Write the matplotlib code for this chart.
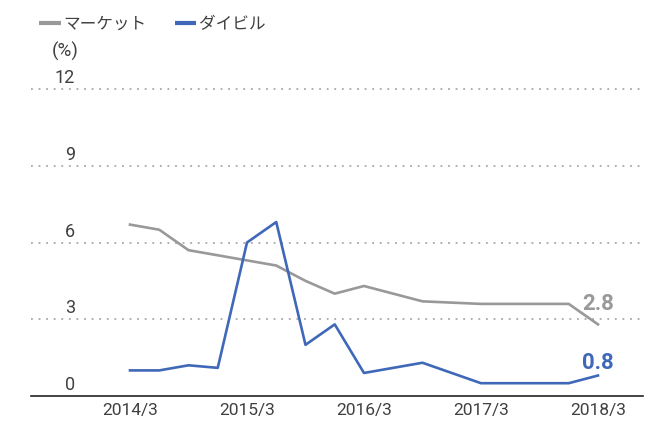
import matplotlib
matplotlib.use("Agg")
import matplotlib.pyplot as plt

plt.rcParams['font.family'] = ['Roboto', 'DejaVu Sans']

# ====== データ ======
# 四半期インデックス (0 = 2014/3)
quarters = [0, 1, 2, 3, 4, 5, 6, 7, 8, 10, 12, 15, 16]
market = [6.7, 6.5, 5.7, 5.5, 5.3, 5.1, 4.5, 4.0, 4.3, 3.7, 3.6, 3.6, 2.8]
daibiru = [1.0, 1.0, 1.2, 1.1, 6.0, 6.8, 2.0, 2.8, 0.9, 1.3, 0.5, 0.5, 0.8]
xtick_pos = [0, 4, 8, 12, 16]
xtick_labels = ["2014/3", "2015/3", "2016/3", "2017/3", "2018/3"]
yticks = [0, 3, 6, 9, 12]
series_names = ["マーケット", "ダイビル"]

GRAY = "#999999"
BLUE = "#4068b8"
TEXT = "#404040"

# ====== グラフ ======
fig = plt.figure(figsize=(6.53, 4.24), dpi=100)
W, H = 653, 424
left, right, top, bottom = 31, 643, 80, 396
ax = fig.add_axes([left / W, 1 - bottom / H, (right - left) / W, (bottom - top) / H])

ax.plot(quarters, market, color=GRAY, lw=1.9, label=series_names[0])
ax.plot(quarters, daibiru, color=BLUE, lw=1.9, label=series_names[1])

ax.set_xlim(-3.385, 17.54)
ax.set_ylim(0, 12 * (bottom - top) / (bottom - 89))

# 点線グリッド
for v in yticks[1:]:
    ax.axhline(v, color="#a8a8a8", lw=1.3, ls=(0, (1, 3.2)), zorder=0)

for s in ["left", "right", "top"]:
    ax.spines[s].set_visible(False)
ax.spines["bottom"].set_color("#222222")
ax.spines["bottom"].set_linewidth(1.2)

ax.set_yticks([])
ax.set_xticks(xtick_pos)
ax.set_xticklabels(xtick_labels, fontsize=12.5, color=TEXT)
ax.tick_params(axis="x", length=0, pad=5)

# Y目盛ラベル (線の上)
xlab = (75 - left) / (right - left)
for v in yticks:
    ax.text(xlab, v + 0.23, str(v), transform=ax.get_yaxis_transform(), ha="right",
            va="baseline", fontsize=13, color=TEXT)

fig.text(65 / W, 1 - 51 / H, "(%)", ha="center", va="center", fontsize=13.5, color=TEXT)

# 末尾ラベル
ax.text(quarters[-1], market[-1] + 0.55, f"{market[-1]:.1f}", ha="center", va="baseline",
        fontsize=16, fontweight="bold", color=GRAY)
ax.text(quarters[-1], daibiru[-1] + 0.25, f"{daibiru[-1]:.1f}", ha="center", va="baseline",
        fontsize=16, fontweight="bold", color=BLUE)

leg = fig.legend(loc="upper left", bbox_to_anchor=(24 / W, 1 - 1 / H), ncol=2, frameon=False,
                 handlelength=1.3, handletextpad=0.15, columnspacing=1.7,
                 prop={"family": ["Noto Sans CJK JP"], "size": 12}, labelcolor=TEXT)
for line in leg.get_lines():
    line.set_linewidth(3)
    line.set_solid_capstyle("butt")

fig.savefig("out.png", dpi=100)
